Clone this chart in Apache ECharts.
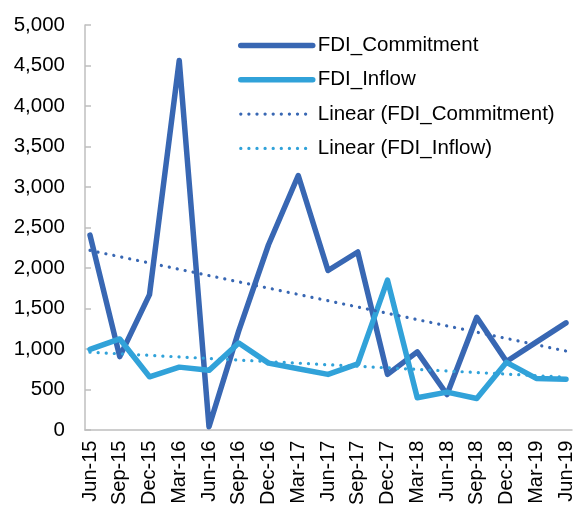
<!DOCTYPE html>
<html>
<head>
<meta charset="utf-8">
<script src="https://cdn.jsdelivr.net/npm/echarts@6/dist/echarts.min.js"></script>
<style>
  html, body { margin: 0; padding: 0; background: #fff; }
  #chart { width: 576px; height: 508px; }
</style>
</head>
<body>
<div id="chart"></div>
<script>
var categories = ['Jun-15', 'Sep-15', 'Dec-15', 'Mar-16', 'Jun-16', 'Sep-16', 'Dec-16', 'Mar-17', 'Jun-17',
    'Sep-17', 'Dec-17', 'Mar-18', 'Jun-18', 'Sep-18', 'Dec-18', 'Mar-19', 'Jun-19'];
var fdiCommitment = [2390, 880, 1650, 4560, 10, 1200, 2270, 3130, 1950, 2180, 660, 940, 410, 1370, 820, 1060, 1300];
var fdiInflow = [970, 1100, 630, 750, 710, 1050, 800, 730, 660, 790, 1830, 370, 440, 360, 810, 610, 600];
// trendline end points
var trendCommitEnds = [2200, 950];
var trendInflowEnds = [935, 625];
var yTicks = [0, 500, 1000, 1500, 2000, 2500, 3000, 3500, 4000, 4500, 5000];

var darkBlue = '#3867b3';
var lightBlue = '#31a2d9';
var axisGray = '#bfbfbf';
var font = 'Liberation Sans, Arial, sans-serif';

function trendData(ends) {
    return categories.map(function(c, i) {
        if (i === 0) return ends[0];
        if (i === categories.length - 1) return ends[1];
        return null;
    });
}

var myChart = echarts.init(document.getElementById('chart'));

var option = {
    animation: false,
    textStyle: { fontFamily: font, color: '#000' },
    legend: {
        orient: 'vertical',
        left: 238,
        top: 35,
        padding: 0,
        itemWidth: 72,
        itemHeight: 20,
        itemGap: 13.3,
        textStyle: { fontFamily: font, fontSize: 20.5, color: '#000', lineHeight: 20 },
        itemStyle: { opacity: 0 },
        lineStyle: { width: 'inherit', type: 'inherit', cap: 'inherit' },
        data: ['FDI_Commitment', 'FDI_Inflow', 'Linear (FDI_Commitment)', 'Linear (FDI_Inflow)']
    },
    grid: [
        { left: 90, right: 7, top: 25, bottom: 78 },
        // frame grid: only its axes are drawn
        { left: 85, right: 4, top: 25, bottom: 78 }
    ],
    xAxis: [{
        type: 'category',
        gridIndex: 0,
        data: categories,
        boundaryGap: false,
        axisLine: { show: false },
        axisTick: { show: false },
        axisLabel: {
            rotate: 90,
            margin: 13,
            interval: 0,
            fontSize: 20,
            color: '#000',
            fontFamily: font
        }
    }, {
        type: 'value',
        gridIndex: 1,
        min: 0,
        max: 1,
        axisLine: { show: true, lineStyle: { color: axisGray, width: 1.5 } },
        axisTick: { show: false },
        axisLabel: { show: false },
        splitLine: { show: false }
    }],
    yAxis: [{
        type: 'value',
        gridIndex: 0,
        min: yTicks[0],
        max: yTicks[yTicks.length - 1],
        interval: 500,
        show: false,
        splitLine: { show: false }
    }, {
        type: 'value',
        gridIndex: 1,
        min: yTicks[0],
        max: yTicks[yTicks.length - 1],
        interval: 500,
        axisLine: { show: true, lineStyle: { color: axisGray, width: 1.5 } },
        axisTick: { show: true, inside: true, length: 6, lineStyle: { color: axisGray, width: 1.5 } },
        axisLabel: {
            margin: 20,
            fontSize: 20.5,
            color: '#000',
            fontFamily: font,
            formatter: function(v) { return v.toLocaleString('en-US'); }
        },
        splitLine: { show: false }
    }],
    series: [{
        name: 'FDI_Commitment',
        type: 'line',
        xAxisIndex: 0,
        yAxisIndex: 0,
        data: fdiCommitment,
        symbol: 'none',
        color: darkBlue,
        lineStyle: { color: darkBlue, width: 5.5, cap: 'round', join: 'round' }
    }, {
        name: 'FDI_Inflow',
        type: 'line',
        xAxisIndex: 0,
        yAxisIndex: 0,
        data: fdiInflow,
        symbol: 'none',
        color: lightBlue,
        lineStyle: { color: lightBlue, width: 5.5, cap: 'round', join: 'round' }
    }, {
        name: 'Linear (FDI_Commitment)',
        type: 'line',
        xAxisIndex: 0,
        yAxisIndex: 0,
        data: trendData(trendCommitEnds),
        connectNulls: true,
        symbol: 'none',
        color: darkBlue,
        lineStyle: { color: darkBlue, width: 3.2, type: [0.1, 8], cap: 'round' }
    }, {
        name: 'Linear (FDI_Inflow)',
        type: 'line',
        xAxisIndex: 0,
        yAxisIndex: 0,
        data: trendData(trendInflowEnds),
        connectNulls: true,
        symbol: 'none',
        color: lightBlue,
        lineStyle: { color: lightBlue, width: 3.2, type: [0.1, 8], cap: 'round' }
    }]
};
myChart.setOption(option);
</script>
</body>
</html>
